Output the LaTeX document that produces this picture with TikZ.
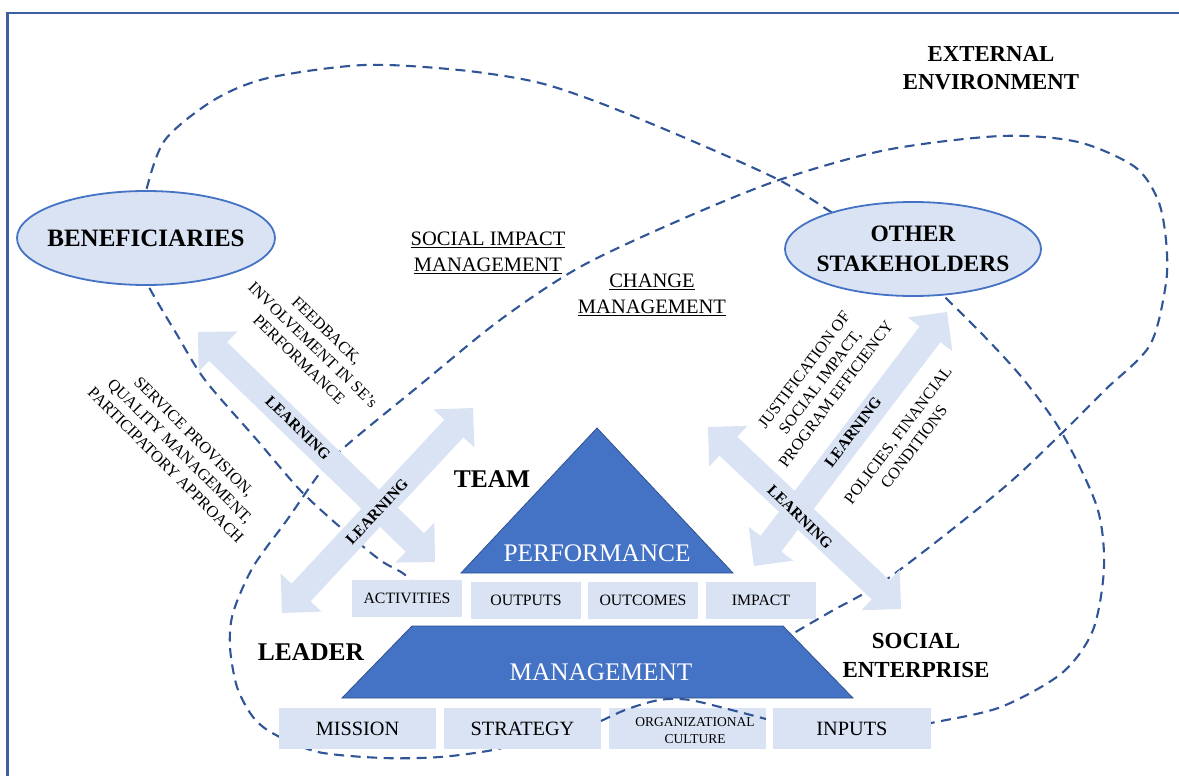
\documentclass[tikz,border=0pt]{standalone}
\usepackage{fontspec}
\setmainfont{Liberation Serif}
\usetikzlibrary{shapes.geometric,calc}

\definecolor{framebl}{RGB}{62,96,160}
\definecolor{dashbl}{RGB}{47,85,151}
\definecolor{paleblue}{RGB}{218,227,243}
\definecolor{midblue}{RGB}{68,114,196}
\definecolor{edgeblue}{RGB}{47,82,143}

% double-headed block arrow between two named points
\newcommand\learnarrow[2]{%
  \coordinate (hA) at ($(#1)!28pt!(#2)$);
  \coordinate (hB) at ($(#2)!28pt!(#1)$);
  \fill[learnfill] (#1) -- ($(hA)!28pt!90:(#2)$) -- ($(hA)!13pt!90:(#2)$)
    -- ($(hB)!13pt!-90:(#1)$) -- ($(hB)!28pt!-90:(#1)$) -- (#2)
    -- ($(hB)!28pt!90:(#1)$) -- ($(hB)!13pt!90:(#1)$)
    -- ($(hA)!13pt!-90:(#2)$) -- ($(hA)!28pt!-90:(#2)$) -- cycle;}

\begin{document}
\begin{tikzpicture}[x=1pt,y=-1pt,
  zone/.style={draw=dashbl, line width=2.1pt, dash pattern=on 10pt off 6.5pt},
  party/.style={ellipse, draw=midblue, fill=paleblue, line width=1.8pt,
    minimum width=258pt, minimum height=94pt, inner sep=0pt},
  partytext/.style={font=\bfseries\fontsize{24.5}{30}\selectfont, align=center, inner sep=0pt},
  stepcell/.style={fill=paleblue, minimum width=110pt, minimum height=37pt,
    inner sep=0pt, font=\fontsize{15.8}{18}\selectfont},
  basecell/.style={fill=paleblue, minimum width=157pt, minimum height=41pt,
    inner sep=0pt, font=\fontsize{20.3}{22}\selectfont},
  learnfill/.style={fill=paleblue},
  learntag/.style={font=\bfseries\fontsize{15.5}{16}\selectfont, inner sep=0pt},
  flowtag/.style={font=\fontsize{16.3}{20}\selectfont, align=center, inner sep=0pt},
  headtag/.style={font=\bfseries\fontsize{23}{29}\selectfont, align=center, inner sep=0pt},
  zonetag/.style={font=\fontsize{20.5}{26}\selectfont, align=center, inner sep=0pt},
  leveltag/.style={font=\fontsize{25.3}{28}\selectfont, text=white, inner sep=0pt},
  level/.style={fill=midblue, draw=edgeblue, line width=0.8pt}]

\useasboundingbox (0,0) rectangle (1179,776);

% outer frame
\draw[framebl, line width=2.2pt] (7.5,776) -- (7.5,13) -- (1179,13);

% dashed zones
\draw[zone] plot[smooth] coordinates {(146,205) (146,191) (165,140) (214,100) (268,78)
  (364,65) (459,70) (536,82) (600,103) (690,140) (779,180) (831,212) (845,222)};
\draw[zone] plot[smooth] coordinates {(935,285) (945,297) (985,337) (1024,380) (1062,433)
  (1097,507) (1104,567) (1093,630) (1062,673) (1001,707) (936,722) (900,728)};
\draw[zone] plot[smooth] coordinates {(540,738) (493,750) (440,757) (383,758) (318,752)
  (274,734) (253,717) (237,687) (230,647) (233,613) (253,567) (287,520) (320,473)
  (347,445) (420,385) (500,320) (580,267) (680,220) (779,180) (886,150) (1001,136)
  (1078,142) (1135,167) (1158,200) (1166,240) (1166,283) (1150,345) (1105,390)
  (1062,433) (1001,490) (890,577) (830,612) (794,633) (775,645)};
\draw[zone] plot[smooth] coordinates {(146,272) (149,287) (176,333) (205,380) (257,440)
  (300,490) (340,527) (380,560) (404,574) (418,590)};

% learning arrows
\coordinate (a1s) at (198,332); \coordinate (a1e) at (435,562);
\coordinate (a2s) at (282,613); \coordinate (a2e) at (473,408);
\coordinate (a3s) at (754,566); \coordinate (a3e) at (947,312);
\coordinate (a4s) at (708,427); \coordinate (a4e) at (901,609);
\learnarrow{a1s}{a1e}
\learnarrow{a2s}{a2e}
\learnarrow{a3s}{a3e}
\learnarrow{a4s}{a4e}

\node[learntag, rotate=-44] (l1) at (298,428) {LEARNING};
\node[learntag, rotate=47] (l2) at (377,512) {LEARNING};
\node[learntag, rotate=53] (l3) at (853,432) {LEARNING};
\node[learntag, rotate=-44] (l4) at (800,517) {LEARNING};

% stakeholder groups
\node[party] (ben) at (146,238) {};
\node[partytext, font=\bfseries\fontsize{25}{30}\selectfont] (bentext) at (ben.center) {BENEFICIARIES};
\node[party, minimum width=256pt] (oth) at (913,249) {};
\node[partytext, font=\bfseries\fontsize{23.5}{30}\selectfont] (othtext) at (oth.center) {OTHER\\STAKEHOLDERS};

% flow labels
\node[flowtag, rotate=-44] (fb) at (313,345) {FEEDBACK,\\INVOLVEMENT IN SE’s\\PERFORMANCE};
\node[flowtag, rotate=-45] (sp) at (180,451) {SERVICE PROVISION,\\QUALITY MANAGEMENT,\\PARTICIPATORY APPROACH};
\node[flowtag, rotate=53] (js) at (820,382) {JUSTIFICATION OF\\SOCIAL IMPACT,\\PROGRAM EFFICIENCY};
\node[flowtag, rotate=53] (pf) at (906,441) {POLICIES, FINANCIAL\\CONDITIONS};

% zone and actor labels
\node[headtag, font=\bfseries\fontsize{22.8}{28}\selectfont] (ext) at (991,68) {EXTERNAL\\ENVIRONMENT};
\node[zonetag] (sim) at (488,253) {\underline{SOCIAL IMPACT}\\\underline{MANAGEMENT}};
\node[zonetag] (chm) at (652,295) {\underline{CHANGE}\\\underline{MANAGEMENT}};
\node[headtag, font=\bfseries\fontsize{25.5}{28}\selectfont] (team) at (492,479) {TEAM};
\node[headtag, font=\bfseries\fontsize{25.5}{28}\selectfont] (leader) at (311,652) {LEADER};
\node[headtag] (se) at (916,655) {SOCIAL\\ENTERPRISE};

% result chain
\node[stepcell] (act) at (407,598.5) {ACTIVITIES};
\node[stepcell] (outp) at (526,600) {OUTPUTS};
\node[stepcell] (outc) at (643,600) {OUTCOMES};
\node[stepcell] (imp) at (761,600) {IMPACT};

% foundations
\node[basecell] (mis) at (357.5,728.5) {MISSION};
\node[basecell] (str) at (522.5,728.5) {STRATEGY};
\node[basecell] (cul) at (687,728.5) {};
\node[font=\fontsize{13.5}{17}\selectfont, align=center, inner sep=0pt] (cultext) at (695,731) {ORGANIZATIONAL\\CULTURE};
\node[basecell, minimum width=158pt] (inp) at (852,728.5) {INPUTS};

% dashed arch passing between the foundations
\draw[zone] plot[smooth] coordinates {(601,721) (625,710) (650,702) (668,699) (690,700) (720,707) (766,719)};

% performance triangle and management trapezoid
\filldraw[level] (461,573) -- (597,428) -- (733,573) -- cycle;
\filldraw[level] (342,698) -- (412,626) -- (783,626) -- (853,698) -- cycle;
\node[leveltag] (perf) at (597,553) {PERFORMANCE};
\node[leveltag] (mgmt) at (601,672) {MANAGEMENT};

\end{tikzpicture}
\end{document}
